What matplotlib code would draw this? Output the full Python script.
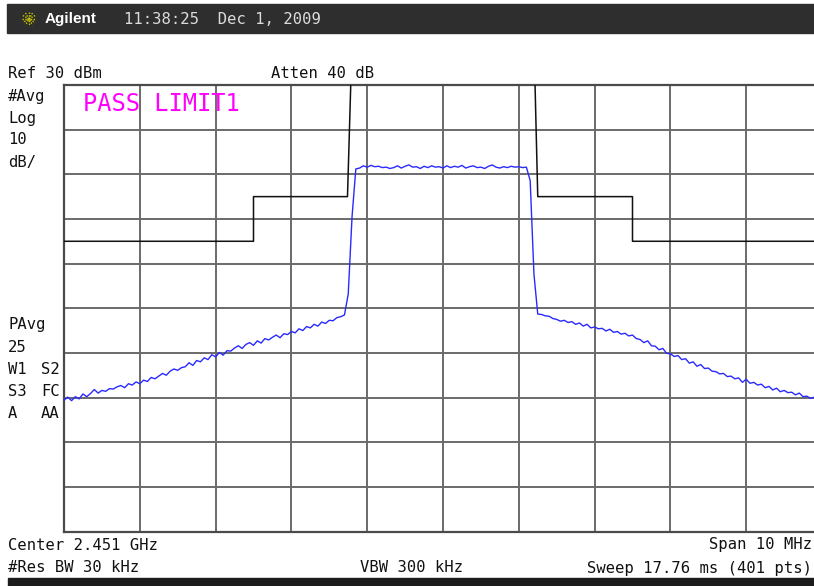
import numpy as np
import matplotlib
matplotlib.use("Agg")
import matplotlib.pyplot as plt
from matplotlib.patches import Rectangle

# ---------------- data ----------------
ref_level_dbm = 30
db_per_div = 10
span_mhz = 10.0

# measured trace (dBm), 201 samples across the 10 MHz span
trace_left = [
    -40.6, -39.9, -40.7, -39.8, -40.3, -39.2, -39.8, -39.1, -38.2, -39.0,
    -38.4, -38.6, -38.0, -38.1, -37.6, -37.3, -37.8, -36.9, -37.2, -36.5,
    -36.9, -36.1, -36.4, -35.5, -35.8, -35.2, -34.6, -35.0, -34.1, -33.6,
    -33.9, -33.3, -33.1, -32.2, -32.8, -31.7, -32.0, -31.1, -31.5, -30.4,
    -30.9, -29.9, -30.5, -29.5, -29.6, -28.9, -28.4, -29.0, -28.1, -27.7,
    -28.3, -27.3, -27.8, -26.8, -27.1, -26.5, -26.0, -26.6, -25.7, -25.9,
    -25.2, -25.5, -24.6, -25.0, -24.1, -24.4, -23.6, -24.0, -23.1, -23.4,
    -22.7, -22.8, -22.1, -21.9, -21.5,
]
trace_rise = [-16.8, 0.5, 11.2]
trace_top = [
    11.4, 11.9, 11.6, 12.0, 11.7, 11.8, 11.5, 11.6, 11.3, 11.5,
    11.9, 11.4, 11.8, 12.1, 11.6, 11.7, 11.3, 11.8, 11.5, 11.9,
    11.6, 11.7, 11.4, 11.9, 11.5, 11.8, 11.6, 12.0, 11.4, 11.7,
    11.9, 11.5, 11.6, 11.3, 11.8, 12.1, 11.6, 11.4, 11.7, 11.5,
    11.8, 11.6, 11.7, 11.5, 11.6,
]
trace_fall = [8.6, -12.4, -21.3]
trace_right = [
    -21.4, -21.7, -21.8, -22.3, -22.5, -22.9, -22.7, -23.2, -23.0, -23.6,
    -23.3, -24.0, -23.6, -24.4, -24.2, -24.6, -24.5, -25.1, -24.7, -25.4,
    -25.2, -25.8, -25.6, -26.2, -26.0, -26.8, -27.0, -27.7, -27.3, -28.4,
    -28.5, -29.3, -29.0, -30.1, -30.2, -30.8, -30.6, -31.5, -31.3, -32.3,
    -32.0, -33.0, -32.6, -33.5, -33.4, -34.1, -34.2, -34.7, -34.6, -35.3,
    -35.2, -35.8, -35.6, -36.6, -35.9, -36.8, -36.6, -37.2, -37.0, -37.8,
    -37.5, -38.3, -37.9, -38.7, -38.4, -38.9, -38.8, -39.4, -39.0, -39.8,
    -39.7, -40.2, -39.9, -40.6, -40.7,
]
trace_dbm = trace_left + trace_rise + trace_top + trace_fall + trace_right

# limit line (offset MHz, dBm)
limit_freq = [-5.0, -2.5, -2.5, -1.26, -1.20, 1.20, 1.25, 2.5, 2.5, 5.0]
limit_dbm = [-5, -5, 5, 5, 40, 40, 5, 5, -5, -5]

# annotation texts
header_brand = "Agilent"
header_time = "11:38:25  Dec 1, 2009"
left_labels = [("#Avg", 97), ("Log", 118), ("10", 140), ("dB/", 162),
               ("PAvg", 325), ("25", 347), ("W1", 370), ("S3", 392), ("A", 414)]
left_labels2 = [("S2", 370), ("FC", 392), ("AA", 414)]

# ---------------- figure ----------------
W, H = 814, 586
fig = plt.figure(figsize=(W / 100, H / 100), dpi=100)
fig.patch.set_facecolor("white")

x0, x1 = 64, 822
y0, y1 = 85, 531.5
ax = fig.add_axes([x0 / W, 1 - y1 / H, (x1 - x0) / W, (y1 - y0) / H])
ax.set_xlim(-span_mhz / 2, span_mhz / 2)
ax.set_ylim(ref_level_dbm - 10 * db_per_div, ref_level_dbm)
ax.set_xticks(np.linspace(-span_mhz / 2, span_mhz / 2, 11))
ax.set_yticks(np.arange(ref_level_dbm - 10 * db_per_div, ref_level_dbm + 1, db_per_div))
ax.tick_params(length=0, labelbottom=False, labelleft=False)
ax.grid(True, color="#6a6a6a", lw=1.4)
ax.set_axisbelow(True)
for s in ax.spines.values():
    s.set_color("#4a4a4a")
    s.set_linewidth(1.6)

freq = np.linspace(-span_mhz / 2, span_mhz / 2, len(trace_dbm))
ax.plot(limit_freq, limit_dbm, color="#111111", lw=1.1, zorder=3)
ax.plot(freq, trace_dbm, color="#2a2aff", lw=1.0, zorder=4)

# overlay in pixel coordinates
ov = fig.add_axes([0, 0, 1, 1], zorder=10)
ov.set_xlim(0, W)
ov.set_ylim(H, 0)
ov.axis("off")
ov.patch.set_alpha(0)

ov.add_patch(Rectangle((7, 4), W - 7, 29, color="#2e2e2e"))
ov.add_patch(Rectangle((8, 578), W - 8, 8, color="#1c1c1c"))

# starburst icon
cx, cy = 29, 19
for ang in np.arange(0, np.pi, np.pi / 6):
    dx, dy = 7 * np.cos(ang), 7 * np.sin(ang)
    ov.plot([cx - dx, cx + dx], [cy - dy, cy + dy], color="#c8c400", lw=1.0,
            ls=(0, (1, 1)))

mono = "DejaVu Sans Mono"
ov.text(45, 19.5, header_brand, color="white", fontsize=11, fontweight="bold",
        family="Liberation Sans", va="center", ha="left")
ov.text(124, 19.5, header_time, color="#dcdcdc", fontsize=11.2, family=mono,
        va="center", ha="left")

fs = 11.2
ov.text(8, 73, "Ref 30 dBm", fontsize=fs, family=mono, va="center", color="#111")
ov.text(271, 73, "Atten 40 dB", fontsize=fs, family=mono, va="center", color="#111")
for txt, yy in left_labels:
    ov.text(8, yy, txt, fontsize=fs, family=mono, va="center", color="#111")
for txt, yy in left_labels2:
    ov.text(41, yy, txt, fontsize=fs, family=mono, va="center", color="#111")

ov.text(83, 104, "PASS LIMIT1", fontsize=17, family=mono, va="center",
        color="#ff00ff")

ov.text(8, 545, "Center 2.451 GHz", fontsize=fs, family=mono, va="center", color="#111")
ov.text(812, 545, "Span 10 MHz", fontsize=fs, family=mono, va="center", ha="right", color="#111")
ov.text(8, 568, "#Res BW 30 kHz", fontsize=fs, family=mono, va="center", color="#111")
ov.text(360, 568, "VBW 300 kHz", fontsize=fs, family=mono, va="center", color="#111")
ov.text(812, 568, "Sweep 17.76 ms (401 pts)", fontsize=fs, family=mono, va="center",
        ha="right", color="#111")

fig.savefig("out.png", dpi=100)
